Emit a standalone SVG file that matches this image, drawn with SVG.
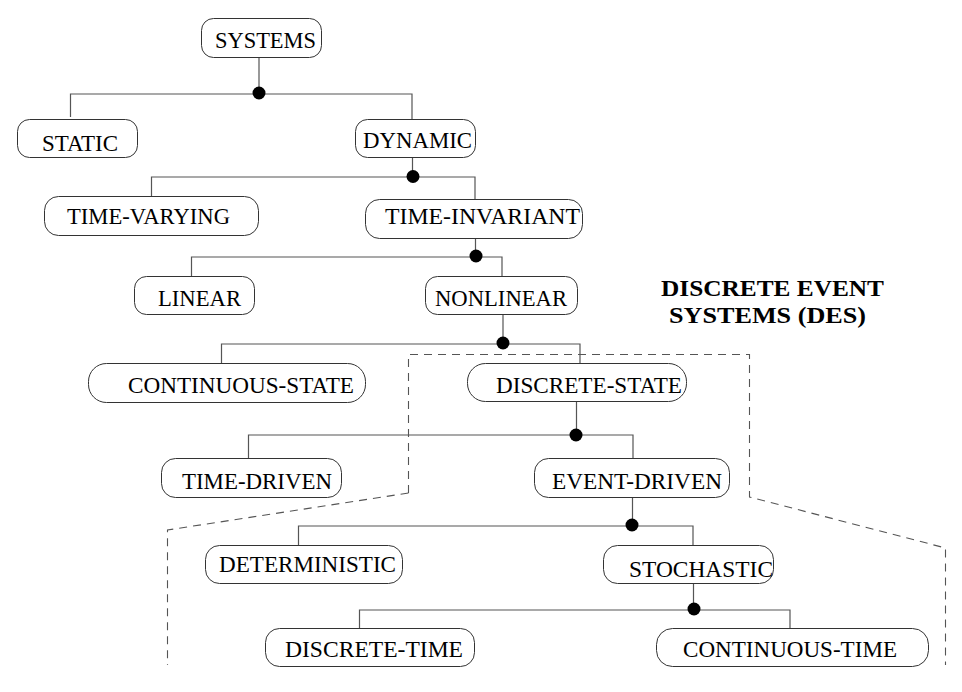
<svg xmlns="http://www.w3.org/2000/svg" width="962" height="692" viewBox="0 0 962 692">
<style>
.box{fill:#fff;stroke:#333;stroke-width:1}
.t{font-family:"Liberation Serif","Times New Roman",serif;font-size:23px;fill:#000}
.b{font-family:"Liberation Serif","Times New Roman",serif;font-size:24px;font-weight:bold;fill:#000}
.ln{fill:none;stroke:#555;stroke-width:1.2}
.dot{fill:#000}
.dash{fill:none;stroke:#555;stroke-width:1.1;stroke-dasharray:8 6}
</style>
<rect width="962" height="692" fill="#fff"/>
<g id="connectors">
<path class="ln" d="M259,57 V94 M70.5,117 V94 H412 V119"/>
<circle class="dot" cx="259" cy="93" r="6.5"/>
<path class="ln" d="M412.5,157 V177 M151.5,196 V177 H475 V199"/>
<circle class="dot" cx="413" cy="176.5" r="6.5"/>
<path class="ln" d="M475.5,238 V257 M191.5,276 V257 H502 V276"/>
<circle class="dot" cx="476" cy="256" r="6.5"/>
<path class="ln" d="M503,315 V344 M221.5,363 V344 H580 V363"/>
<circle class="dot" cx="503" cy="343" r="6.5"/>
<path class="ln" d="M576.5,402 V435 M248.5,458 V435 H633 V458"/>
<circle class="dot" cx="576" cy="435" r="6.5"/>
<path class="ln" d="M632.5,497 V526 M298.5,545 V526 H693 V545"/>
<circle class="dot" cx="632" cy="525" r="6.5"/>
<path class="ln" d="M693.5,584 V610 M359.5,628 V610 H790 V628"/>
<circle class="dot" cx="694" cy="609" r="6.5"/>
</g>
<g id="des-region">
<path class="dash" d="M408.5,493 V354.5 H749.5 V497 L945.5,548 V665"/>
<path class="dash" d="M408.5,493 L167.5,530 V665"/>
<text class="b" x="661" y="296" textLength="223" lengthAdjust="spacingAndGlyphs">DISCRETE EVENT</text>
<text class="b" x="669" y="323" textLength="197" lengthAdjust="spacingAndGlyphs">SYSTEMS (DES)</text>
</g>
<g id="systems"><rect class="box" x="201.5" y="18.5" width="120" height="39" rx="12"/><text class="t" x="215" y="48" textLength="101" lengthAdjust="spacingAndGlyphs">SYSTEMS</text></g>
<g id="static"><rect class="box" x="17.5" y="119.5" width="120" height="38" rx="12"/><text class="t" x="42" y="151" textLength="76" lengthAdjust="spacingAndGlyphs">STATIC</text></g>
<g id="dynamic"><rect class="box" x="355.5" y="119.5" width="120" height="38" rx="12"/><text class="t" x="363" y="148" textLength="109" lengthAdjust="spacingAndGlyphs">DYNAMIC</text></g>
<g id="time-varying"><rect class="box" x="44.5" y="196.5" width="214" height="39" rx="14"/><text class="t" x="67" y="224" textLength="163" lengthAdjust="spacingAndGlyphs">TIME-VARYING</text></g>
<g id="time-invariant"><rect class="box" x="365.5" y="199.5" width="217" height="39" rx="14"/><text class="t" x="385" y="224" textLength="195" lengthAdjust="spacingAndGlyphs">TIME-INVARIANT</text></g>
<g id="linear"><rect class="box" x="134.5" y="276.5" width="120" height="38" rx="12"/><text class="t" x="158" y="306" textLength="83" lengthAdjust="spacingAndGlyphs">LINEAR</text></g>
<g id="nonlinear"><rect class="box" x="425.5" y="276.5" width="152" height="38" rx="12"/><text class="t" x="435" y="306" textLength="132" lengthAdjust="spacingAndGlyphs">NONLINEAR</text></g>
<g id="continuous-state"><rect class="box" x="88.5" y="363.5" width="277" height="39" rx="18"/><text class="t" x="128" y="393" textLength="226" lengthAdjust="spacingAndGlyphs">CONTINUOUS-STATE</text></g>
<g id="discrete-state"><rect class="box" x="467.5" y="363.5" width="219" height="38" rx="18"/><text class="t" x="496" y="393" textLength="186" lengthAdjust="spacingAndGlyphs">DISCRETE-STATE</text></g>
<g id="time-driven"><rect class="box" x="161.5" y="458.5" width="180" height="39" rx="14"/><text class="t" x="182" y="489" textLength="150" lengthAdjust="spacingAndGlyphs">TIME-DRIVEN</text></g>
<g id="event-driven"><rect class="box" x="534.5" y="458.5" width="195" height="39" rx="14"/><text class="t" x="552" y="489" textLength="170" lengthAdjust="spacingAndGlyphs">EVENT-DRIVEN</text></g>
<g id="deterministic"><rect class="box" x="205.5" y="545.5" width="197" height="38" rx="14"/><text class="t" x="219" y="572" textLength="177" lengthAdjust="spacingAndGlyphs">DETERMINISTIC</text></g>
<g id="stochastic"><rect class="box" x="603.5" y="545.5" width="170" height="38" rx="14"/><text class="t" x="629" y="577" textLength="144" lengthAdjust="spacingAndGlyphs">STOCHASTIC</text></g>
<g id="discrete-time"><rect class="box" x="265.5" y="628.5" width="209" height="38" rx="14"/><text class="t" x="285" y="657" textLength="178" lengthAdjust="spacingAndGlyphs">DISCRETE-TIME</text></g>
<g id="continuous-time"><rect class="box" x="656.5" y="628.5" width="272" height="38" rx="16"/><text class="t" x="683" y="657" textLength="214" lengthAdjust="spacingAndGlyphs">CONTINUOUS-TIME</text></g>
</svg>
